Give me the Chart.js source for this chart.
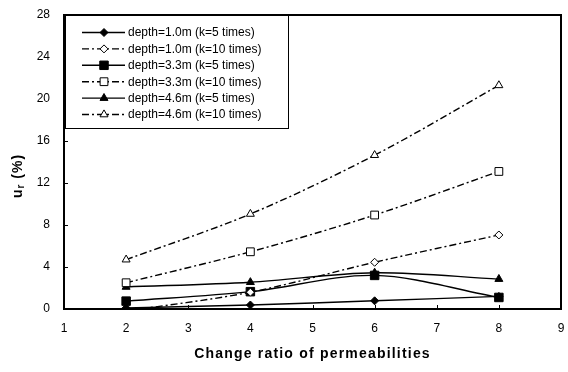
<!DOCTYPE html>
<html>
<head>
<meta charset="utf-8">
<script src="https://cdn.jsdelivr.net/npm/chart.js@4.4.0/dist/chart.umd.min.js"></script>
<style>
    html, body { margin: 0; padding: 0; background: #fff; }
    #wrap { width: 568px; height: 372px; }
</style>
</head>
<body>
<div id="wrap"><canvas id="chart" width="568" height="372"></canvas></div>
<script>
// Datos
const ratios = [2, 4, 6, 8];
const xTicks = [1, 2, 3, 4, 5, 6, 7, 8, 9];
const yTicks = [0, 4, 8, 12, 16, 20, 24, 28];

const seriesNames = [
    'depth=1.0m (k=5 times)',
    'depth=1.0m (k=10 times)',
    'depth=3.3m (k=5 times)',
    'depth=3.3m (k=10 times)',
    'depth=4.6m (k=5 times)',
    'depth=4.6m (k=10 times)'
];
const d10k5 = [0.1, 0.38, 0.78, 1.2];
const d10k10 = [-0.2, 1.6, 4.45, 7.05];
const d33k5 = [0.75, 1.65, 3.2, 1.1];
const d33k10 = [2.5, 5.45, 8.95, 13.1];
const d46k5 = [2.1, 2.55, 3.45, 2.85];
const d46k10 = [4.7, 9.05, 14.65, 21.3];

const FONT = '"Liberation Sans", Arial, sans-serif';
const DASHDOT = [7, 3, 2, 3];

function makeSet(label, values, dashed, style, radius) {
    return {
        label: label,
        data: values.map((v, i) => ({ x: ratios[i], y: v })),
        borderColor: '#000',
        borderWidth: 1.4,
        borderDash: dashed ? DASHDOT : [],
        pointStyle: style,
        pointRadius: radius,
        pointBorderWidth: 1,
        pointBorderColor: '#000',
        pointBackgroundColor: dashed ? '#fff' : '#000',
        tension: 0.33,
        fill: false
    };
}

const datasets = [
    makeSet(seriesNames[0], d10k5, false, 'rectRot', 4),
    makeSet(seriesNames[1], d10k10, true, 'rectRot', 4),
    makeSet(seriesNames[2], d33k5, false, 'rect', 6),
    makeSet(seriesNames[3], d33k10, true, 'rect', 5.5),
    makeSet(seriesNames[4], d46k5, false, 'triangle', 4.6),
    makeSet(seriesNames[5], d46k10, true, 'triangle', 4.6)
];

// Marco, marcas interiores, títulos y leyenda
const decor = {
    id: 'decor',
    afterDatasetsDraw(chart) {
        const ctx = chart.ctx;
        const a = chart.chartArea;
        const xs = chart.scales.x, ys = chart.scales.y;
        ctx.save();
        ctx.strokeStyle = '#000';
        ctx.lineWidth = 2;
        ctx.strokeRect(a.left, a.top, a.right - a.left, a.bottom - a.top);

        ctx.lineWidth = 1;
        ctx.beginPath();
        xTicks.forEach(t => {
            const px = Math.round(xs.getPixelForValue(t)) + 0.5;
            ctx.moveTo(px, a.bottom);
            ctx.lineTo(px, a.bottom - 4);
        });
        yTicks.forEach(t => {
            const py = Math.round(ys.getPixelForValue(t)) + 0.5;
            ctx.moveTo(a.left, py);
            ctx.lineTo(a.left + 4, py);
        });
        ctx.stroke();

        // Título eje X
        ctx.fillStyle = '#000';
        ctx.font = 'bold 14px ' + FONT;
        ctx.letterSpacing = '1.2px';
        ctx.textAlign = 'center';
        ctx.textBaseline = 'middle';
        ctx.fillText('Change ratio of permeabilities', (a.left + a.right) / 2, 354);

        // Título eje Y con subíndice
        ctx.translate(18, 176);
        ctx.rotate(-Math.PI / 2);
        ctx.textAlign = 'left';
        ctx.letterSpacing = '1px';
        const big = 'bold 14px ' + FONT, small = 'bold 10px ' + FONT;
        ctx.font = big;
        const wU = ctx.measureText('u').width;
        const wP = ctx.measureText(' (%)').width;
        ctx.font = small;
        const wR = ctx.measureText('r').width;
        let x0 = -(wU + wR + wP) / 2;
        ctx.font = big;
        ctx.fillText('u', x0, 0);
        ctx.font = small;
        ctx.fillText('r', x0 + wU, 3);
        ctx.font = big;
        ctx.fillText(' (%)', x0 + wU + wR, 0);
        ctx.letterSpacing = '0px';
        ctx.restore();

        // Leyenda
        ctx.save();
        const box = { l: 65, t: 15, r: 288, b: 128 };
        ctx.fillStyle = '#fff';
        ctx.fillRect(box.l, box.t, box.r - box.l, box.b - box.t);
        ctx.strokeStyle = '#000';
        ctx.lineWidth = 1;
        ctx.strokeRect(box.l + 0.5, box.t + 0.5, box.r - box.l, box.b - box.t);
        ctx.font = '12px ' + FONT;
        ctx.textBaseline = 'middle';
        ctx.textAlign = 'left';
        chart.data.datasets.forEach((ds, i) => {
            const cy = 32.5 + i * 16.4;
            ctx.strokeStyle = '#000';
            ctx.lineWidth = ds.borderWidth;
            ctx.setLineDash(ds.borderDash);
            ctx.beginPath();
            ctx.moveTo(82, cy);
            ctx.lineTo(125, cy);
            ctx.stroke();
            ctx.setLineDash([]);
            ctx.fillStyle = ds.pointBackgroundColor;
            ctx.lineWidth = ds.pointBorderWidth;
            Chart.helpers.drawPoint(ctx, {
                pointStyle: ds.pointStyle,
                radius: ds.pointRadius,
                rotation: 0,
                borderWidth: ds.pointBorderWidth
            }, 104, cy);
            ctx.fillStyle = '#000';
            ctx.fillText(ds.label, 128, cy + 0.5);
        });
        ctx.restore();
    }
};

new Chart(document.getElementById('chart'), {
    type: 'line',
    data: { datasets: datasets },
    options: {
        responsive: false,
        animation: false,
        devicePixelRatio: 1,
        layout: { padding: { top: 15, right: 2, left: 0, bottom: 0 } },
        scales: {
            x: {
                type: 'linear',
                min: 1,
                max: 9,
                grid: { display: false, drawTicks: false },
                border: { display: false },
                ticks: {
                    stepSize: 1,
                    color: '#000',
                    padding: 12,
                    font: { family: FONT, size: 12 }
                },
                afterFit(s) {
                    s.height = 63;
                    s.paddingLeft = 0; s.paddingRight = 0;
                }
            },
            y: {
                min: 0,
                max: 28,
                grid: { display: false, drawTicks: false },
                border: { display: false },
                ticks: {
                    stepSize: 4,
                    color: '#000',
                    padding: 14,
                    font: { family: FONT, size: 12 }
                },
                afterFit(s) {
                    s.width = 64;
                    s.paddingTop = 0; s.paddingBottom = 0;
                }
            }
        },
        plugins: {
            legend: { display: false },
            tooltip: { enabled: false }
        }
    },
    plugins: [decor]
});
</script>
</body>
</html>
